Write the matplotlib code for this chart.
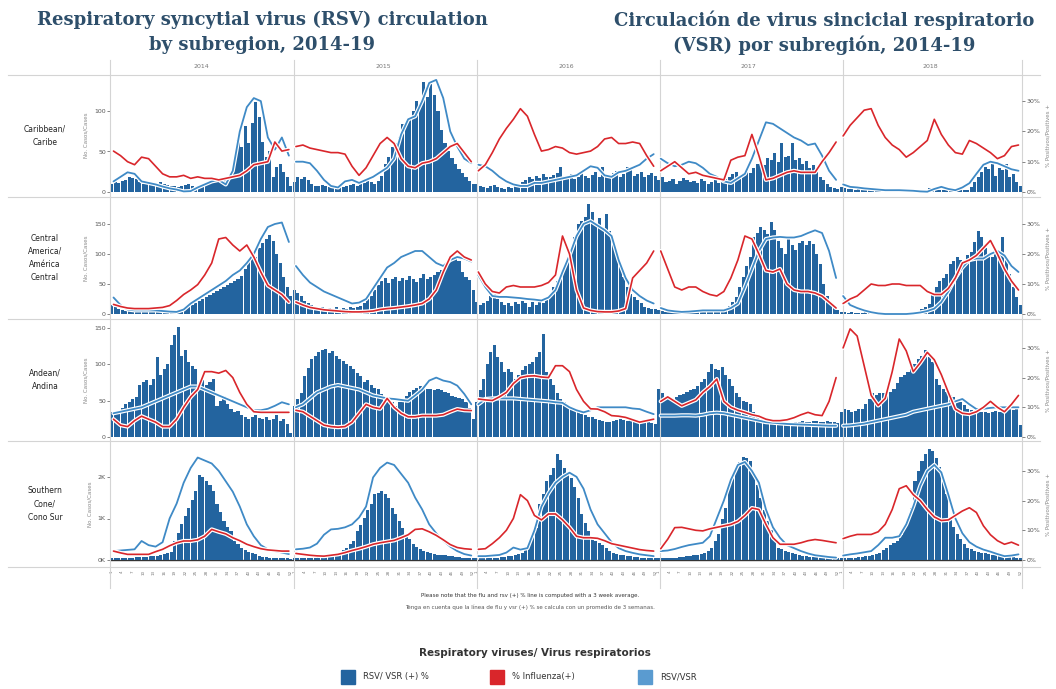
import numpy as np
import matplotlib
matplotlib.use('Agg')
import matplotlib.pyplot as plt
import matplotlib.patheffects as pe
from matplotlib.lines import Line2D

years = ['2014', '2015', '2016', '2017', '2018']
subregions = ['Caribbean/\nCaribe',
              'Central\nAmerica/\nAmérica\nCentral',
              'Andean/\nAndina',
              'Southern\nCone/\nCono Sur']

# Weekly RSV cases (52 weeks per year, 2014-2018)
carib_cases = [
    10, 12, 11, 13, 15, 18, 17, 16, 12, 10, 11, 9, 10, 8, 12, 10, 9, 7, 8, 6,
    8, 9, 10, 7, 6, 9, 10, 12, 11, 13, 12, 14, 15, 16, 22, 40, 64, 55, 82, 60,
    85, 111, 92, 62, 43, 50, 19, 31, 35, 25, 18, 8,
    12, 18, 16, 19, 15, 10, 8, 7, 9, 8, 6, 7, 5, 8, 6, 7, 9, 10, 8, 12,
    11, 13, 12, 10, 14, 20, 35, 43, 55, 60, 68, 84, 86, 90, 100, 112, 108, 136, 117, 134,
    120, 100, 76, 60, 51, 42, 35, 28, 23, 18, 14, 10,
    10, 8, 6, 5, 7, 9, 6, 5, 4, 6, 5, 7, 8, 12, 15, 18, 16, 20, 17, 22,
    19, 18, 21, 24, 31, 20, 18, 22, 16, 19, 23, 20, 17, 21, 25, 18, 31, 22, 20, 24,
    26, 19, 22, 31, 28, 20, 22, 25, 18, 21, 23, 20,
    15, 18, 12, 14, 16, 10, 13, 17, 15, 12, 14, 11, 16, 13, 10, 12, 15, 11, 14, 16,
    18, 22, 25, 20, 24, 28, 23, 30, 35, 38, 33, 42, 40, 48, 37, 60, 43, 45, 60, 40,
    42, 35, 38, 30, 33, 25, 18, 15, 10, 6, 5, 4,
    6, 5, 4, 5, 3, 4, 6, 3, 2, 4, 3, 2, 3, 4, 2, 3, 2, 1, 2, 3,
    2, 4, 3, 2, 3, 5, 4, 3, 2, 3, 4, 2, 3, 5, 4, 3, 2, 6, 12, 18,
    25, 31, 28, 35, 20, 30, 27, 34, 18, 22, 12, 8]

camer_cases = [
    15, 12, 8, 6, 5, 7, 6, 4, 5, 6, 5, 4, 6, 5, 4, 5, 3, 4, 5, 6,
    8, 10, 12, 15, 18, 22, 25, 28, 32, 35, 38, 42, 45, 48, 52, 55, 58, 64, 75, 88,
    100, 95, 110, 118, 125, 131, 122, 100, 85, 62, 45, 30,
    40, 35, 30, 22, 18, 15, 12, 10, 12, 9, 10, 8, 11, 9, 10, 8, 12, 10, 11, 14,
    18, 25, 30, 40, 48, 55, 60, 52, 58, 62, 55, 60, 57, 63, 58, 54, 60, 67, 58, 62,
    65, 70, 73, 80, 85, 92, 95, 88, 70, 62, 56, 40,
    20, 15, 18, 22, 30, 34, 25, 20, 15, 18, 14, 20, 16, 22, 18, 12, 20, 15, 22, 18,
    25, 34, 45, 55, 62, 75, 89, 110, 128, 150, 155, 162, 184, 170, 150, 160, 145, 167, 139, 120,
    100, 80, 62, 45, 34, 28, 23, 18, 12, 10, 9, 8,
    6, 5, 4, 4, 3, 5, 4, 3, 4, 5, 3, 4, 5, 4, 3, 4, 5, 6, 8, 10,
    14, 20, 28, 45, 62, 80, 95, 128, 135, 145, 140, 134, 153, 140, 122, 110, 100, 128, 115, 106,
    118, 122, 115, 122, 117, 100, 84, 50, 30, 17, 10, 6,
    4, 3, 2, 3, 2, 1, 2, 3, 2, 1, 2, 1, 2, 3, 2, 1, 2, 2, 3, 2,
    3, 4, 5, 8, 12, 17, 34, 45, 55, 60, 67, 84, 89, 95, 90, 84, 98, 103, 120, 139,
    128, 110, 100, 95, 106, 98, 128, 90, 67, 45, 28, 15]

andean_cases = [
    34, 36, 35, 40, 45, 48, 52, 55, 71, 75, 78, 72, 80, 110, 85, 94, 100, 126, 140, 151,
    112, 120, 103, 98, 94, 71, 78, 72, 75, 80, 43, 50, 57, 45, 39, 34, 36, 30, 28, 25,
    27, 30, 26, 25, 28, 24, 25, 30, 22, 25, 18, 6,
    43, 52, 61, 84, 95, 107, 112, 117, 120, 121, 115, 118, 112, 107, 104, 100, 98, 94, 88, 84,
    75, 78, 71, 68, 66, 59, 55, 52, 48, 43, 48, 52, 57, 62, 65, 68, 70, 68, 66, 66,
    65, 66, 64, 62, 60, 57, 55, 54, 52, 48, 40, 25,
    48, 65, 80, 100, 117, 126, 110, 103, 89, 94, 90, 80, 85, 92, 97, 100, 103, 110, 117, 142,
    89, 80, 71, 60, 52, 48, 44, 40, 39, 35, 32, 30, 28, 27, 25, 24, 22, 21, 20, 22,
    23, 25, 24, 22, 23, 22, 21, 20, 22, 20, 19, 18,
    66, 60, 55, 52, 50, 55, 58, 59, 62, 64, 66, 70, 75, 80, 90, 100, 94, 92, 96, 85,
    80, 70, 61, 55, 50, 48, 45, 34, 30, 25, 22, 20, 18, 18, 19, 18, 20, 20, 19, 21,
    20, 22, 21, 20, 22, 22, 21, 20, 22, 20, 21, 19,
    34, 39, 37, 35, 36, 38, 39, 45, 52, 61, 58, 61, 60, 57, 62, 66, 74, 82, 85, 90,
    94, 100, 107, 112, 119, 110, 103, 80, 72, 66, 62, 58, 55, 52, 48, 44, 39, 37, 36, 35,
    34, 35, 33, 34, 36, 35, 34, 36, 38, 37, 39, 16]

# Southern Cone cases in thousands
scone_cases = [
    .05, .05, .05, .06, .05, .06, .06, .07, .07, .08, .08, .09, .1, .1, .12, .15, .18, .2, .45, .65,
    .86, 1.05, 1.26, 1.45, 1.66, 2.06, 2.0, 1.9, 1.8, 1.66, 1.34, 1.15, .94, .8, .7, .46, .38, .3, .25, .2,
    .18, .14, .1, .08, .07, .06, .05, .05, .04, .04, .04, .03,
    .04, .04, .05, .05, .05, .06, .06, .07, .08, .09, .1, .12, .14, .18, .24, .3, .38, .46, .7, .85,
    1.02, 1.2, 1.34, 1.58, 1.62, 1.66, 1.6, 1.5, 1.26, 1.1, .94, .78, .62, .5, .38, .32, .26, .22, .2, .17,
    .14, .13, .12, .11, .1, .09, .08, .07, .06, .06, .05, .05,
    .04, .04, .05, .05, .05, .06, .06, .07, .08, .09, .1, .12, .15, .18, .28, .38, .55, .78, 1.34, 1.6,
    1.9, 2.05, 2.22, 2.55, 2.4, 2.22, 2.1, 1.98, 1.75, 1.5, 1.1, .9, .7, .58, .46, .4, .35, .3, .22, .18,
    .15, .13, .11, .1, .09, .08, .07, .06, .05, .05, .04, .04,
    .04, .05, .05, .05, .06, .06, .07, .08, .09, .1, .11, .12, .14, .17, .22, .3, .45, .62, 1.0, 1.26,
    1.82, 2.05, 2.23, 2.35, 2.47, 2.45, 2.39, 2.07, 1.8, 1.5, 1.2, .94, .72, .54, .3, .26, .22, .2, .18, .15,
    .12, .1, .09, .08, .07, .07, .06, .06, .05, .05, .04, .04,
    .04, .05, .05, .06, .06, .07, .08, .09, .1, .12, .15, .18, .24, .3, .36, .42, .46, .6, .78, 1.0,
    1.26, 1.9, 2.15, 2.39, 2.55, 2.67, 2.63, 2.45, 2.23, 1.9, 1.58, 1.02, .8, .62, .5, .38, .3, .26, .22, .2,
    .18, .16, .14, .13, .12, .11, .1, .1, .09, .08, .06, .05]

# % Influenza positive, every second week (26 per year)
carib_flu = [
    13.5, 12, 10, 9, 11.5, 11, 8.5, 6, 5, 5, 5.5, 4.5, 5, 4.5, 4.5, 4, 4.5, 5, 5.5, 7, 9, 9.5, 10, 16.5, 13.5, 14,
    15, 15.5, 14.5, 14, 13.5, 13, 13, 12.5, 8.5, 5.5, 8, 12, 16, 18, 16, 11, 8.5, 8, 9.5, 10, 11, 13, 15, 16, 13, 10,
    7, 9, 13, 17.5, 21, 24, 27.5, 25, 19, 13.5, 14, 15, 14.5, 13, 12.5, 13, 13.5, 15, 17.5, 18, 16, 16, 16.5, 16, 12, 8.5,
    7, 8.5, 10, 8, 6, 6.5, 5.5, 5, 4.5, 4, 10.5, 11.5, 12, 19, 12, 4, 4.5, 5.5, 6.5, 7, 6.5, 6.5, 6.5, 10, 13, 16.5,
    18.5, 22, 24.5, 27, 27.5, 22, 18, 15.5, 14, 11.5, 13, 15, 17, 24, 19, 15.5, 13, 12.5, 17, 16, 14.5, 13, 11, 12, 15, 15.5]

camer_flu = [
    3.2, 2.5, 2, 1.8, 1.8, 1.8, 2, 2.2, 2.8, 4.5, 6.5, 8, 9.8, 13, 17, 25, 25.5, 23, 21, 23, 19, 14, 9.5, 8, 6.5, 4,
    4, 3, 2.2, 1.8, 1.4, 1.2, 1, 0.8, 0.7, 0.7, 0.8, 1, 1.5, 1.8, 2, 2.3, 2.6, 3, 3.5, 5, 8, 14, 19, 21, 19, 18,
    14, 10, 7.5, 7, 9, 9.5, 9, 9, 9, 9.5, 10.5, 13, 26, 20, 8, 2, 1.2, 0.8, 0.7, 0.7, 1, 1.8, 12, 14.5, 17, 21,
    21, 15, 9, 8, 9, 9, 7.5, 6.5, 6, 7.5, 12, 18, 26, 25, 20, 14.5, 14, 15, 10, 8, 7.5, 7.5, 7, 6, 4, 2,
    3.5, 5, 6, 8, 10, 9.5, 9.5, 10, 10, 9.5, 9.5, 9.5, 7.5, 6.5, 6.5, 8.5, 12, 17, 18, 19.5, 22, 24.5, 20, 15, 11, 8]

andean_flu = [
    6, 4, 3.5, 5.5, 7, 6, 5, 3.5, 3.5, 6, 10, 13.5, 16, 22, 22, 21.5, 22.4, 20, 15, 11, 8.5, 8.3, 8.3, 8.3, 8.3, 8.3,
    9, 8.5, 7, 5.5, 4, 3.5, 3.3, 3.5, 5, 8, 11, 10, 9.5, 13, 10, 8, 6.8, 6.8, 7.2, 7.2, 7.2, 7.5, 8.5, 9.4, 9, 8.9,
    12.8, 12.5, 12.3, 13.5, 15, 18, 20, 20.5, 20.6, 20.2, 20, 24, 24, 22, 16, 12, 9.5, 9.4, 8.5, 7.2, 7, 6.6, 5.8, 5, 5.5, 6,
    12, 13.5, 12, 10.5, 11.5, 12.5, 15, 17, 19.5, 12, 10, 9, 8.3, 7.5, 7, 6, 5.5, 5.5, 5.8, 6.5, 7.5, 8.3, 7.5, 7.2, 12, 20,
    30, 36.4, 34, 24, 14, 10.6, 13, 22, 33, 29, 22, 25, 28.5, 26, 21, 15, 9.4, 8, 7.7, 8.5, 10, 12, 10, 8.5, 11, 14]

scone_flu = [
    3, 2.4, 1.9, 1.9, 1.9, 1.9, 2.8, 3.6, 4.8, 5.8, 6.4, 6.4, 6.8, 8, 10.3, 9.5, 8.8, 7.5, 6.5, 5.3, 4.5, 3.8, 3.4, 3.2, 3, 3,
    2.2, 1.9, 1.6, 1.4, 1.3, 1.6, 1.9, 2.5, 3.2, 3.8, 4.5, 5.3, 5.8, 6.2, 6.6, 7.5, 8.5, 10.3, 10.5, 9.5, 8.3, 6.8, 5.2, 4.2, 3.8, 3.6,
    3.6, 3.8, 5.5, 7.5, 10, 14, 22, 20, 15, 13.5, 15.5, 15.5, 13.5, 11, 8, 7.5, 7.5, 7.3, 6.5, 5.5, 5, 4.5, 4, 3.5, 3.2, 3,
    3.8, 7, 10.9, 11, 10.5, 10, 9.8, 10.5, 11, 11.5, 12, 13, 15, 17.5, 17, 12, 7.5, 5.3, 5.3, 5.3, 5.8, 6.5, 6.9, 6.6, 6.2, 5.8,
    7.2, 8, 8.6, 8.6, 8.6, 9.5, 12, 17, 24, 25, 22, 20, 17, 14.5, 13.3, 13.5, 15, 16.5, 17.6, 16, 11.5, 8.5, 6.5, 5.3, 6, 5]

# % RSV positive, every second week (26 per year)
carib_rsv = [
    3.5, 5, 6.5, 6, 3.5, 3, 2.5, 1.8, 1.2, 0.8, 0.2, 0.3, 1.5, 2.5, 3.5, 4, 2.5, 7, 20, 28, 31, 30, 18, 14, 18, 12,
    10, 10, 9.5, 7, 4, 2, 1.5, 3.5, 4, 3, 4, 5, 6.5, 8, 11, 19, 24, 25, 30, 36, 37, 31, 20, 15, 11, 9.5,
    9, 8.5, 7, 5, 3.5, 2.5, 2, 2, 3, 3, 3.5, 4, 4.5, 5, 5.5, 7, 8.5, 8, 5.5, 5, 6.5, 7, 8, 9, 11, 12.5,
    11, 9.5, 8.5, 9, 10, 9.5, 8, 6, 5, 3.5, 3, 4.5, 6, 11, 17, 23, 22.5, 21, 19.5, 18, 17, 15.5, 16, 12, 7, 4,
    2.5, 1.7, 1.5, 1.2, 1, 0.8, 0.6, 0.6, 0.6, 0.5, 0.4, 0.2, 0.1, 1, 1.7, 1, 0.6, 1.5, 2.9, 6, 9, 10, 9.5, 8.5, 7.5, 7]

camer_rsv = [
    5.5, 3, 1.5, 1.2, 1.2, 1.2, 1.2, 1, 0.8, 0.7, 1.5, 3.5, 5, 6.5, 8, 9.5, 11, 13, 14.5, 17, 20, 25, 29, 30, 30.5, 24,
    16, 13, 10.5, 9, 7.5, 6.5, 5.5, 4.5, 3.5, 3.8, 5, 8.5, 12, 15.5, 17, 19, 20, 21, 21, 19, 17, 16, 18, 19, 18.5, 17.5,
    13, 9, 6, 5.7, 5.7, 5.5, 5.3, 5, 4.8, 4.5, 5.5, 8, 14, 19.5, 26, 30, 31, 29.5, 28, 26, 18, 12, 8, 6, 4.5, 3.5,
    2, 1.2, 0.9, 0.7, 0.8, 1, 1.2, 1.2, 1.2, 1.2, 2, 3.5, 9, 15, 21, 25, 25.5, 25.7, 25.5, 25.5, 26, 27, 27.9, 27, 21, 12,
    6, 3, 2, 1.2, 0.6, 0.2, 0, 0, 0, 0, 0.2, 0.5, 1, 1.8, 4, 7.5, 12, 15.5, 18, 18.5, 18.5, 20, 21, 19.5, 16, 14]

andean_rsv = [
    8, 8.5, 9, 9.5, 10, 11, 12, 13, 14, 15, 16, 17, 17, 16, 15, 14, 13, 12, 11, 10, 9, 9, 9.5, 10.5, 11.7, 11,
    10, 11, 13, 15, 16, 17, 17.5, 17, 16.5, 16, 15, 14, 13.5, 13, 12.8, 12.5, 12.2, 14, 16, 19, 20, 19, 18.5, 17.3, 14.5, 11,
    11, 12.8, 13, 13, 13, 13, 12.8, 12.6, 12.4, 12.2, 12, 11.7, 11.5, 10, 9, 8.3, 9, 10, 10, 10, 10, 10, 9.6, 9.4, 8.5, 7.7,
    7.2, 7.2, 7.2, 7.3, 7.3, 7.2, 7.5, 8, 8.2, 8, 7.5, 7, 6.5, 6, 5.5, 5, 4.8, 4.6, 4.4, 4.3, 4.2, 4.1, 4, 3.9, 3.8, 3.8,
    3.8, 3.9, 4.2, 4.5, 5, 5.5, 6, 6.5, 7, 7.5, 8.5, 9, 9.5, 10, 10.5, 11, 12, 12.8, 11, 9.4, 9.5, 9.8, 10, 10, 10, 10]

scone_rsv = [
    3, 3.2, 3.4, 3.6, 6.4, 5, 4.5, 6, 14, 19, 26, 31, 34.5, 33.5, 32.5, 30, 26.5, 23, 18, 12, 8, 5, 3.6, 3, 2.5, 2,
    3.6, 3.8, 4.2, 5.5, 8.5, 10.3, 10.5, 11, 12, 14.3, 18, 27.8, 31, 32.8, 32, 29, 26, 21, 17, 12, 9, 6.5, 4.5, 3, 2, 1.5,
    1.3, 1.3, 1.5, 1.7, 2.5, 4.2, 3.5, 4, 10, 18, 22.5, 26, 28, 29.4, 28, 24, 17, 12, 9, 6, 4, 3, 2.4, 1.9, 1.6, 1.3,
    3, 3.2, 3.7, 4.4, 5, 5.4, 5.8, 8, 14, 20, 27, 32, 33, 30, 26, 17, 11, 7.5, 5, 4, 3, 2.2, 1.6, 1.3, 1, 0.8,
    1.5, 1.9, 2.2, 2.6, 3, 5, 7.5, 7.5, 8, 12, 18, 25, 30, 32, 29.5, 22, 14, 9, 6, 4.5, 3.5, 2.8, 2, 1.3, 1.5, 1.9]

cases_rows = [carib_cases, camer_cases, andean_cases, scone_cases]
flu_rows = [carib_flu, camer_flu, andean_flu, scone_flu]
rsv_rows = [carib_rsv, camer_rsv, andean_rsv, scone_rsv]

left_ticks = [[0, 50, 100], [0, 50, 100, 150], [0, 50, 100, 150], [0, 1, 2]]
left_ticklabels = [['0', '50', '100'], ['0', '50', '100', '150'],
                   ['0', '50', '100', '150'], ['0K', '1K', '2K']]
pct_ticks = [0, 10, 20, 30]

BAR = '#23649f'
RSV = '#3f8ac6'
FLU = '#d9262b'
GRID = '#d4d4d4'
TXT = '#555555'

W, H = 1056, 689
fig = plt.figure(figsize=(W / 100, H / 100), dpi=100)


def fx(px):
    return px / W


def fy(py):
    return 1 - py / H


# Row geometry in pixels: (top, bottom, zero_px, left px-per-unit, right px-per-%)
rows_px = [(76, 195, 192, 0.81, 3.03),
           (198, 318, 314, 0.60, 3.0),
           (320, 440, 437, 0.727, 2.97),
           (442, 566, 560, 41.5, 2.97)]
X0, X1 = 110, 1022

halo = [pe.Stroke(linewidth=3.0, foreground='white'), pe.Normal()]

for r, (top, bot, zero, ppu, ppp) in enumerate(rows_px):
    ax = fig.add_axes([fx(X0), fy(bot), fx(X1 - X0), (bot - top) / H])
    ax2 = ax.twinx()
    ax.set_zorder(1)
    ax2.set_zorder(2)
    ax2.patch.set_visible(False)

    weeks = np.arange(260) + 0.5
    ax.bar(weeks, cases_rows[r], width=0.88, color=BAR, linewidth=0)
    ax.set_xlim(0, 260)
    ax.set_ylim(-(bot - zero) / ppu, (zero - top) / ppu)
    ax2.set_ylim(-(bot - zero) / ppp, (zero - top) / ppp)

    for j in range(5):
        xs = 52 * j + np.arange(26) * 2 + 1
        ax2.plot(xs, rsv_rows[r][26 * j:26 * (j + 1)], color=RSV, lw=1.3,
                 path_effects=halo, solid_capstyle='round')
        ax2.plot(xs, flu_rows[r][26 * j:26 * (j + 1)], color=FLU, lw=1.2,
                 path_effects=halo, solid_capstyle='round')

    for a in (ax, ax2):
        for s in a.spines.values():
            s.set_visible(False)
    ax.set_yticks(left_ticks[r])
    ax.set_yticklabels(left_ticklabels[r])
    ax2.set_yticks(pct_ticks)
    ax2.set_yticklabels(['%d%%' % t for t in pct_ticks])
    ax.tick_params(axis='y', labelsize=4.5, colors=TXT, length=2, width=0.5, pad=1)
    ax2.tick_params(axis='y', labelsize=4.5, colors=TXT, length=2, width=0.5, pad=1)
    ax.set_ylabel('No. Casos/Cases', fontsize=4, color='#888888', labelpad=4)
    ax2.set_ylabel('% Positivos/Positives +', fontsize=4, color='#888888', labelpad=4)

    if r == 3:
        ax.axhline(0, color='#333333', lw=1.0, zorder=0)
        xt, xl = [], []
        for j in range(5):
            for w in range(1, 53, 3):
                xt.append(52 * j + w - 0.5)
                xl.append(str(w))
        ax.set_xticks(xt)
        ax.set_xticklabels(xl, rotation=90)
        ax.tick_params(axis='x', labelsize=3, colors='#777777', length=0, pad=3)
    else:
        ax.set_xticks([])

    fig.text(fx(45), fy((top + bot) / 2), subregions[r], ha='center', va='center',
             fontsize=5.5, color='#222222', linespacing=1.6)

# Frame lines
for py in [75, 197, 319, 441, 567]:
    fig.add_artist(Line2D([fx(8), fx(1040)], [fy(py), fy(py)], color=GRID, lw=0.8))
for px in [110, 294, 477, 660, 843, 1022]:
    fig.add_artist(Line2D([fx(px), fx(px)], [fy(60), fy(588)], color=GRID, lw=0.8))

for j, yr in enumerate(years):
    xc = X0 + (X1 - X0) * (j + 0.5) / 5
    fig.text(fx(xc), fy(67), yr, ha='center', va='center', fontsize=4.5, color='#777777')

# Titles
title_kw = dict(ha='center', va='center', fontsize=13, fontweight='bold',
                family='DejaVu Serif', color='#2e4f6b')
fig.text(fx(262), fy(20), 'Respiratory syncytial virus (RSV) circulation', **title_kw)
fig.text(fx(262), fy(45), 'by subregion, 2014-19', **title_kw)
fig.text(fx(824), fy(20), 'Circulación de virus sincicial respiratorio', **title_kw)
fig.text(fx(824), fy(45), '(VSR) por subregión, 2014-19', **title_kw)

# Notes
fig.text(fx(530), fy(596), 'Please note that the flu and rsv (+) % line is computed with a 3 week average.',
         ha='center', va='center', fontsize=4, color='#333333')
fig.text(fx(530), fy(607), 'Tenga en cuenta que la línea de flu y vsr (+) % se calcula con un promedio de 3 semanas.',
         ha='center', va='center', fontsize=4, color='#555555')

# Legend
fig.text(fx(535), fy(653), 'Respiratory viruses/ Virus respiratorios', ha='center', va='center',
         fontsize=7.5, fontweight='bold', color='#333333')
legend_items = [('RSV/ VSR (+) %', BAR, 341), ('% Influenza(+)', FLU, 490), ('RSV/VSR', '#5a9bd0', 638)]
for label, col, px in legend_items:
    fig.patches.append(plt.Rectangle((fx(px), fy(684)), fx(14), 14 / H, color=col,
                                     transform=fig.transFigure, figure=fig))
    fig.text(fx(px + 22), fy(677), label, ha='left', va='center', fontsize=6, color='#333333')

fig.savefig('out.png', dpi=100)
